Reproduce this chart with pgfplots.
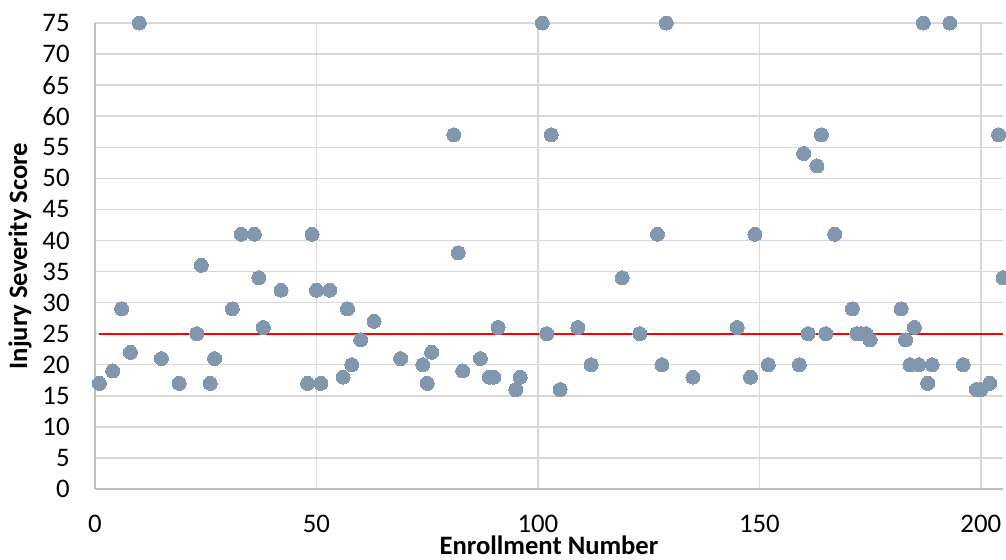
\documentclass[border=0pt]{standalone}
\usepackage{fontspec}
\setmainfont{Carlito}
\usepackage{pgfplots}
\pgfplotsset{compat=1.18}
\definecolor{dotc}{RGB}{128,151,173}
\definecolor{gridc}{RGB}{217,217,217}
\definecolor{axc}{RGB}{191,191,191}
\begin{document}
\begin{tikzpicture}
\begin{axis}[
  at={(0,0)}, anchor=south west,
  scale only axis, width=454pt, height=233pt,
  xmin=0, xmax=205, ymin=0, ymax=75,
  xtick={0,50,...,200}, ytick={0,5,...,75},
  grid=major, major grid style={gridc, line width=0.75pt},
  axis x line*=bottom, axis y line*=left,
  axis line style={draw=axc, line width=0.9pt, -},
  major tick length=0pt,
  /pgf/number format/assume math mode=true,
  tick label style={font=\fontsize{13.4}{15}\selectfont, inner sep=0pt},
  xticklabel style={anchor=base, yshift=-21.8pt},
  yticklabel style={anchor=east},
  yticklabel={\pgfmathprintnumber{\tick}\hspace*{12.5pt}},
  xlabel={\textbf{Enrollment Number}},
  ylabel={\textbf{Injury Severity Score}},
  label style={font=\fontsize{13.3}{15}\selectfont, inner sep=0pt},
  xlabel style={at={(axis description cs:0.5,-0.1416)}, anchor=base},
  ylabel style={at={(axis description cs:-0.0826,0.5)}, anchor=center, rotate=0},
  clip=false,
]
\addplot[draw={rgb,255:red,255;green,0;blue,0}, line width=0.9pt, no markers] coordinates {(1,25) (205,25)};
\addplot[only marks, color=dotc, mark=*, mark size=3.5pt, mark options={fill=dotc, draw=dotc, line width=0pt}] coordinates {
(1,17) (4,19) (6,29) (8,22) (10,75) (15,21) (19,17) (23,25) (24,36) (26,17)
(27,21) (31,29) (33,41) (36,41) (37,34) (38,26) (42,32) (48,17) (49,41) (50,32)
(51,17) (53,32) (56,18) (57,29) (58,20) (60,24) (63,27) (69,21) (74,20) (75,17)
(76,22) (81,57) (82,38) (83,19) (87,21) (89,18) (90,18) (91,26) (95,16) (96,18)
(101,75) (102,25) (103,57) (105,16) (109,26) (112,20) (119,34) (123,25) (127,41) (128,20)
(129,75) (135,18) (145,26) (148,18) (149,41) (152,20) (159,20) (160,54) (161,25) (163,52)
(164,57) (165,25) (167,41) (171,29) (172,25) (173,25) (174,25) (175,24) (182,29) (183,24)
(184,20) (185,26) (186,20) (187,75) (188,17) (189,20) (193,75) (196,20) (199,16) (200,16)
(202,17) (204,57) (205,34)
};
\end{axis}
\pgfresetboundingbox
\path (-47.5pt,-35pt) rectangle (455.5pt,244.5pt);
\end{tikzpicture}
\end{document}
